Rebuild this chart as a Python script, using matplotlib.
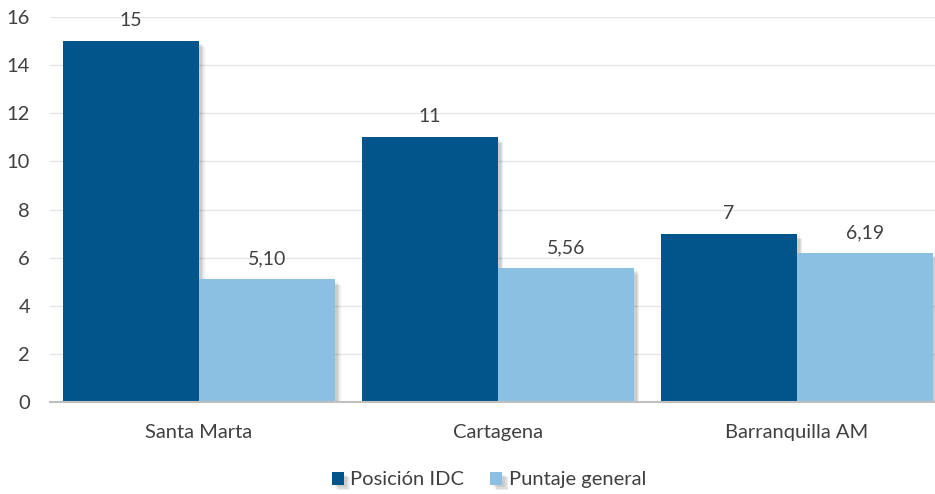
import matplotlib.pyplot as plt
import matplotlib.patheffects as pe
import numpy as np

plt.rcParams['font.family'] = ['Lato', 'DejaVu Sans']

ciudades = ["Santa Marta", "Cartagena", "Barranquilla AM"]
posicion = [15, 11, 7]
puntaje = [5.10, 5.56, 6.19]
etiquetas_pos = ["15", "11", "7"]
etiquetas_punt = ["5,10", "5,56", "6,19"]

azul_osc = "#02558B"
azul_cla = "#8CC0E3"
gris = "#404040"

fig = plt.figure(figsize=(9.35, 4.94), dpi=100)
ax = fig.add_axes([0.053, 0.186, 0.959, 0.7794])

x = np.arange(len(ciudades))
w = 0.455
# sombra suave con varias capas
sombra = [pe.SimplePatchShadow(offset=(o, -o), shadow_rgbFace="#000000", alpha=0.07)
          for o in (4, 3, 2)] + [pe.Normal()]

b1 = ax.bar(x - w / 2, posicion, w, color=azul_osc, label="Posición IDC", zorder=3)
b2 = ax.bar(x + w / 2, puntaje, w, color=azul_cla, label="Puntaje general", zorder=3)
for b in list(b1) + list(b2):
    b.set_path_effects(sombra)

for xi, v, t in zip(x, posicion, etiquetas_pos):
    ax.annotate(t, (xi - w / 2, v), xytext=(0, 12), textcoords="offset pixels",
                ha="center", va="bottom", fontsize=14, color=gris)
for xi, v, t in zip(x, puntaje, etiquetas_punt):
    ax.annotate(t, (xi + w / 2, v), xytext=(0, 12), textcoords="offset pixels",
                ha="center", va="bottom", fontsize=14, color=gris)

ax.set_xlim(-0.5, 2.5)
ax.set_ylim(0, 16)
ax.set_yticks(range(0, 17, 2))
ax.set_xticks(x)
ax.set_xticklabels(ciudades)
ax.tick_params(axis="both", length=0, labelsize=14.5, colors=gris)
ax.tick_params(axis="y", pad=14)
ax.tick_params(axis="x", pad=16)
ax.grid(axis="y", color="#E6E6E6", linewidth=1, zorder=0)
for s in ["top", "right", "left"]:
    ax.spines[s].set_visible(False)
ax.spines["bottom"].set_color("#BFBFBF")
ax.spines["bottom"].set_linewidth(1.5)
ax.spines["bottom"].set_zorder(4)

fig.legend(loc="lower center", bbox_to_anchor=(0.523, -0.025), ncol=2, frameon=False,
           fontsize=14.5, labelcolor=gris, handlelength=0.6, handleheight=0.6,
           handletextpad=0.3, columnspacing=1.3)

plt.savefig("out.png", dpi=100)
